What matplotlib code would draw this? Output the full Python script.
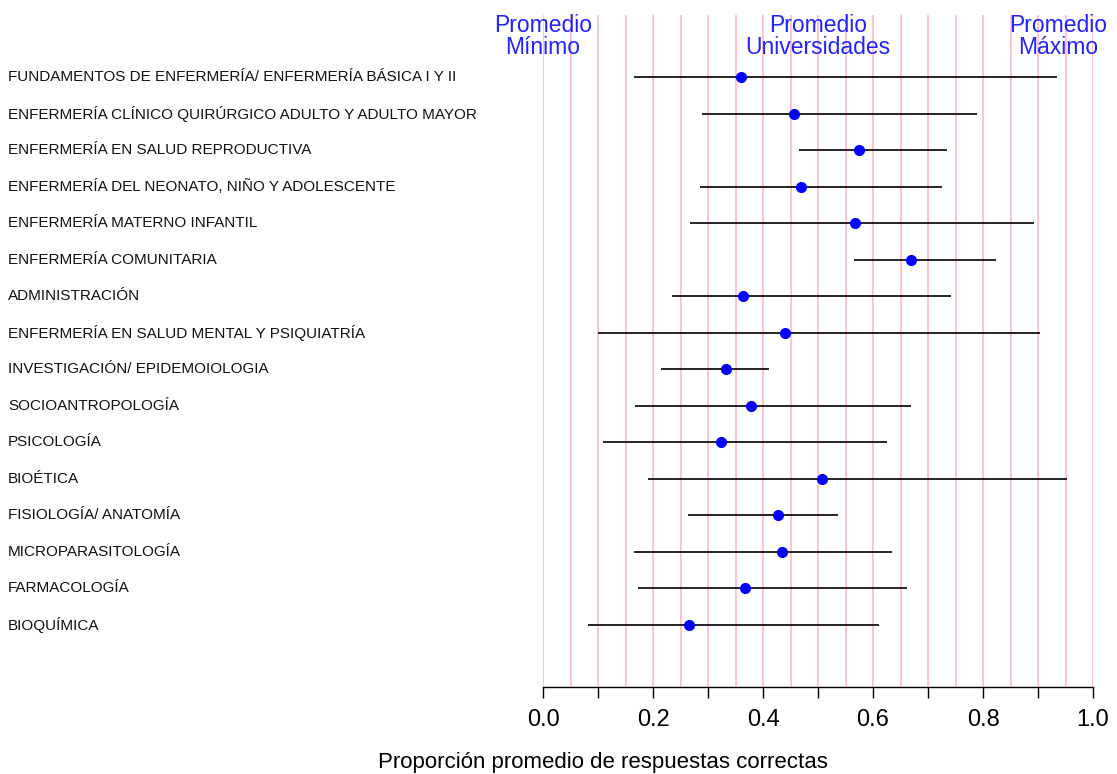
import matplotlib.pyplot as plt
import numpy as np

plt.rcParams["font.family"] = ["Liberation Sans", "DejaVu Sans"]

materias = [
    "FUNDAMENTOS DE ENFERMERÍA/ ENFERMERÍA BÁSICA I Y II",
    "ENFERMERÍA CLÍNICO QUIRÚRGICO ADULTO Y ADULTO MAYOR",
    "ENFERMERÍA EN SALUD REPRODUCTIVA",
    "ENFERMERÍA DEL NEONATO, NIÑO Y ADOLESCENTE",
    "ENFERMERÍA MATERNO INFANTIL",
    "ENFERMERÍA COMUNITARIA",
    "ADMINISTRACIÓN",
    "ENFERMERÍA EN SALUD MENTAL Y PSIQUIATRÍA",
    "INVESTIGACIÓN/ EPIDEMOIOLOGIA",
    "SOCIOANTROPOLOGÍA",
    "PSICOLOGÍA",
    "BIOÉTICA",
    "FISIOLOGÍA/ ANATOMÍA",
    "MICROPARASITOLOGÍA",
    "FARMACOLOGÍA",
    "BIOQUÍMICA",
]
prom_min = [0.165, 0.289, 0.465, 0.285, 0.267, 0.566, 0.234, 0.100,
            0.214, 0.168, 0.109, 0.190, 0.263, 0.166, 0.172, 0.082]
prom_univ = [0.360, 0.456, 0.574, 0.469, 0.567, 0.669, 0.363, 0.440,
             0.333, 0.378, 0.324, 0.508, 0.427, 0.434, 0.368, 0.265]
prom_max = [0.935, 0.789, 0.735, 0.726, 0.892, 0.824, 0.741, 0.904,
            0.411, 0.669, 0.625, 0.952, 0.536, 0.634, 0.661, 0.611]

W, H = 1117, 774
fig = plt.figure(figsize=(W / 100, H / 100), dpi=100)
ax = fig.add_axes([543 / W, (H - 687) / H, 550 / W, 687 / H])

y = np.arange(1, len(materias) + 1)
y_top, y_bot = -1.11, 17.70

# grilla rosa cada 0.05
ax.vlines(np.arange(0, 1.0001, 0.05), y_bot, -0.70, color="pink", lw=1.3, zorder=0)

ax.hlines(y, prom_min, prom_max, color="black", lw=1.2, zorder=2)
ax.plot(prom_univ, y, "o", color="blue", ms=7, zorder=3)

ax.set_xlim(0, 1)
ax.set_ylim(y_bot, y_top)
ax.set_yticks([])
for s in ["left", "right", "top"]:
    ax.spines[s].set_visible(False)
ax.spines["bottom"].set_linewidth(1.0)
ax.set_xticks(np.arange(0, 1.01, 0.1))
ax.set_xticklabels(["0.0", "", "0.2", "", "0.4", "", "0.6", "", "0.8", "", "1.0"],
                   fontsize=17)
ax.tick_params(axis="x", length=8, width=1.0, pad=8)

for yi, nombre in zip(y, materias):
    ax.text(-535 / 550, yi, nombre, ha="left", va="center",
            fontsize=11, color="#111111", clip_on=False)

for xh, txt in [(0.0, "Promedio\nMínimo"), (0.5, "Promedio\nUniversidades"),
                (0.936, "Promedio\nMáximo")]:
    ax.text(xh, -0.10, txt, ha="center", va="center", fontsize=16.5,
            color="#2222ff", linespacing=0.95, clip_on=False)

fig.text(603 / W, 1 / H, "Proporción promedio de respuestas correctas",
         ha="center", va="bottom", fontsize=16)

fig.savefig("out.png", dpi=100)
